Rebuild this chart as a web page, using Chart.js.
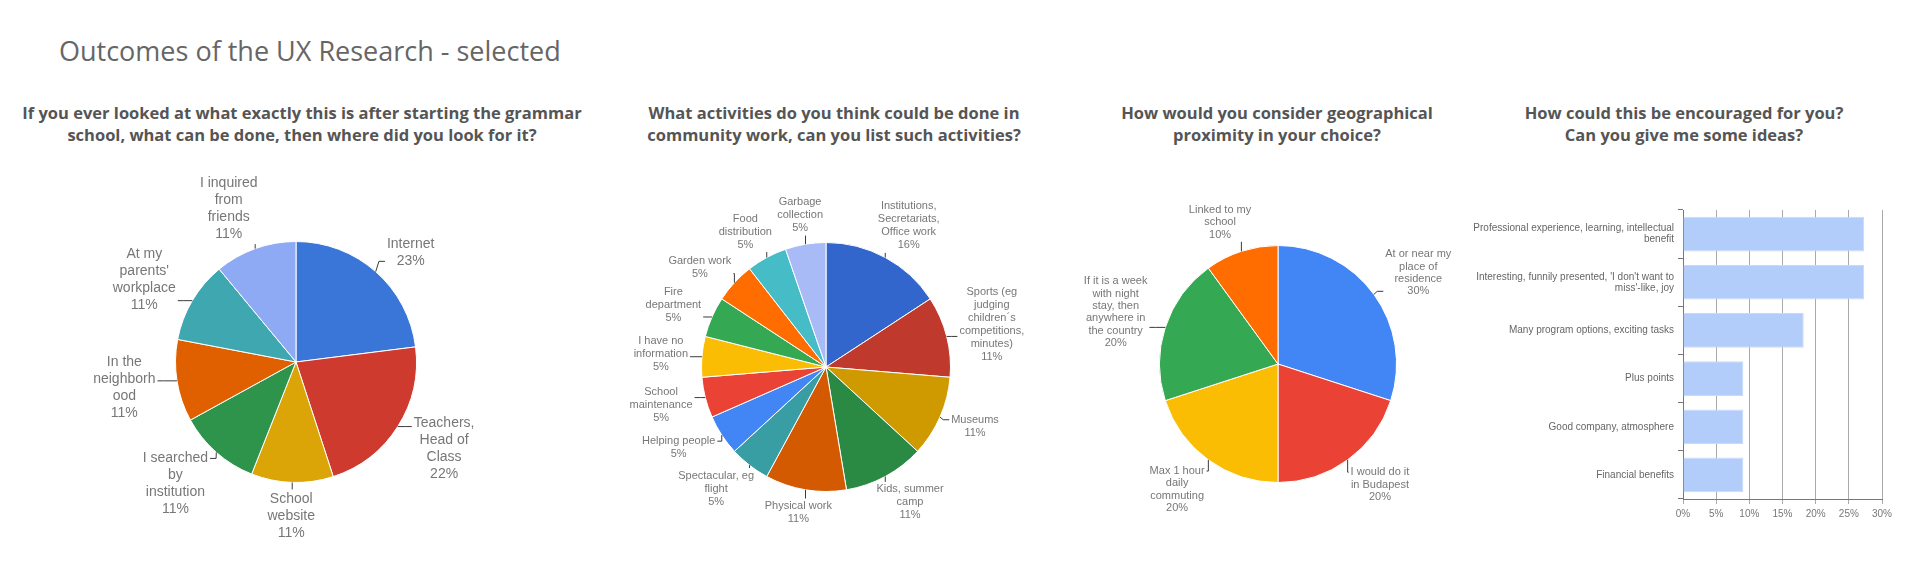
<!DOCTYPE html>
<html>
<head>
<meta charset="utf-8">
<script src="https://cdn.jsdelivr.net/npm/chart.js@4.4.1/dist/chart.umd.min.js"></script>
<style>
  html, body { margin: 0; padding: 0; background: #fff; }
  body { width: 1920px; height: 578px; position: relative; overflow: hidden; }
  .title { position: absolute; left: 59px; top: 36px; font: 27px/30px "Open Sans", sans-serif; color: #666; white-space: nowrap; }
  .sub { position: absolute; top: 102px; width: 640px; text-align: center; font: bold 16.5px/22px "Open Sans", sans-serif; color: #555; }
  .box { position: absolute; }
</style>
</head>
<body>
<div class="title">Outcomes of the UX Research - selected</div>
<div class="sub" style="left:-18px">If you ever looked at what exactly this is after starting the grammar<br>school, what can be done, then where did you look for it?</div>
<div class="sub" style="left:514px">What activities do you think could be done in<br>community work, can you list such activities?</div>
<div class="sub" style="left:957px">How would you consider geographical<br>proximity in your choice?</div>
<div class="sub" style="left:1364px">How could this be encouraged for you?<br>Can you give me some ideas?</div>

<div class="box" style="left:0px;top:160px;width:600px;height:418px"><canvas id="pie1"></canvas></div>
<div class="box" style="left:600px;top:160px;width:460px;height:418px"><canvas id="pie2"></canvas></div>
<div class="box" style="left:1060px;top:160px;width:420px;height:418px"><canvas id="pie3"></canvas></div>
<div class="box" style="left:1460px;top:180px;width:460px;height:360px"><canvas id="bar"></canvas></div>

<script>
// --- Datos ---
const pie1Labels = [['Internet'], ['Teachers,', 'Head of', 'Class'], ['School', 'website'], ['I searched', 'by', 'institution'], ['In the', 'neighborh', 'ood'], ['At my', "parents'", 'workplace'], ['I inquired', 'from', 'friends']];
const pie1Values = [23, 22, 11, 11, 11, 11, 11];

const pie2Labels = [['Institutions,', 'Secretariats,', 'Office work'], ['Sports (eg', 'judging', 'children´s', 'competitions,', 'minutes)'], ['Museums'], ['Kids, summer', 'camp'], ['Physical work'], ['Spectacular, eg', 'flight'], ['Helping people'], ['School', 'maintenance'], ['I have no', 'information'], ['Fire', 'department'], ['Garden work'], ['Food', 'distribution'], ['Garbage', 'collection']];
const pie2Values = [3, 2, 2, 2, 2, 1, 1, 1, 1, 1, 1, 1, 1];

const pie3Labels = [['At or near my', 'place of', 'residence'], ['I would do it', 'in Budapest'], ['Max 1 hour', 'daily', 'commuting'], ['If it is a week', 'with night', 'stay, then', 'anywhere in', 'the country'], ['Linked to my', 'school']];
const pie3Values = [3, 2, 2, 2, 1];

const barCategories = [['Professional experience, learning, intellectual', 'benefit'], ["Interesting, funnily presented, 'I don't want to", "miss'-like, joy"], 'Many program options, exciting tasks', 'Plus points', 'Good company, atmosphere', 'Financial benefits'];
const barValues = [27.3, 27.3, 18.2, 9.1, 9.1, 9.1];
const barTicks = [0, 5, 10, 15, 20, 25, 30];

// --- Colores ---
const pie1Colors = ['#3a76d8', '#cf3a2f', '#dba507', '#2e944b', '#e06000', '#3ea7b0', '#8eaaf5'];
const pie2Colors = ['#3366cc', '#bf392d', '#cf9a00', '#2a8a44', '#d35a00', '#389ea3', '#4285f4', '#ea4335', '#fbbc04', '#34a853', '#ff6d01', '#46bdc6', '#a8bbf6'];
const pie3Colors = ['#4285f4', '#ea4335', '#fbbc04', '#34a853', '#ff6d01'];

const LABEL_FONT = '"Liberation Sans", Arial, sans-serif';

// Etiquetas externas con líneas guía (estilo Google Charts)
const sliceLabels = {
    id: 'sliceLabels',
    afterDatasetsDraw(chart, args, opts) {
        const ctx = chart.ctx;
        const meta = chart.getDatasetMeta(0);
        const values = chart.data.datasets[0].data;
        const total = values.reduce((a, b) => a + b, 0);
        const lh = opts.lineHeight;
        const placed = [];
        const hit = (a, b) => a.l < b.r + 2 && b.l < a.r + 2 && a.t < b.b + 2 && b.t < a.b + 2;

        ctx.save();
        ctx.font = `${opts.size}px ${LABEL_FONT}`;
        meta.data.forEach((arc, i) => {
            const { x, y, startAngle, endAngle, outerRadius: r } = arc;
            const mid = (startAngle + endAngle) / 2;
            const ux = Math.cos(mid), uy = Math.sin(mid);
            const lines = [...chart.data.labels[i], Math.round(values[i] / total * 100) + '%'];
            const w = Math.max(...lines.map(l => ctx.measureText(l).width));
            const h = lines.length * lh;

            // empuje lateral extra para las etiquetas de los costados
            const side = Math.abs(ux) > 0.3 ? Math.sign(ux) * opts.spread : 0;
            let g = opts.gap, box;
            for (let k = 0; k < 80; k++) {
                const cx = x + ux * (r + g + w / 2) + side, cy = y + uy * (r + g + h / 2);
                box = { l: cx - w / 2, r: cx + w / 2, t: cy - h / 2, b: cy + h / 2, cx, cy };
                if (!placed.some(p => hit(p, box))) break;
                g += 2;
            }
            placed.push(box);

            // línea guía
            const ax = x + ux * r, ay = y + uy * r;
            ctx.strokeStyle = '#3a3a3a';
            ctx.lineWidth = 1;
            ctx.beginPath();
            ctx.moveTo(ax, ay);
            if (ax > box.l && ax < box.r) {
                const ey = uy < 0 ? box.b + 1 : box.t - 1;
                ctx.lineTo(ax, ey);
            } else {
                const ey = Math.min(Math.max(ay, box.t + lh / 2), box.b - lh / 2);
                if (box.cx > x) {
                    ctx.lineTo(Math.max(box.l - 8, ax), ey);
                    ctx.lineTo(box.l - 2, ey);
                } else {
                    ctx.lineTo(Math.min(box.r + 8, ax), ey);
                    ctx.lineTo(box.r + 2, ey);
                }
            }
            ctx.stroke();

            // texto
            ctx.fillStyle = '#777';
            ctx.textAlign = 'center';
            ctx.textBaseline = 'middle';
            lines.forEach((l, j) => ctx.fillText(l, box.cx, box.t + lh * (j + 0.5)));
        });
        ctx.restore();
    }
};

function makePie(id, labels, values, colors, W, H, cx, cy, r, size, lineHeight, gap, spread) {
    return new Chart(document.getElementById(id), {
        type: 'pie',
        data: {
            labels: labels,
            datasets: [{ data: values, backgroundColor: colors, borderColor: '#fff', borderWidth: 1 }]
        },
        options: {
            responsive: true,
            maintainAspectRatio: false,
            animation: false,
            layout: { padding: { left: cx - r, right: W - cx - r, top: cy - r, bottom: H - cy - r } },
            plugins: {
                legend: { display: false },
                tooltip: { enabled: false },
                sliceLabels: { size, lineHeight, gap, spread }
            }
        },
        plugins: [sliceLabels]
    });
}

makePie('pie1', pie1Labels, pie1Values, pie1Colors, 600, 418, 296, 202, 121, 14, 17, 8, 14);
makePie('pie2', pie2Labels, pie2Values, pie2Colors, 460, 418, 226, 207, 125, 11, 13, 10, 4);
makePie('pie3', pie3Labels, pie3Values, pie3Colors, 420, 418, 218, 204, 119, 11, 12.4, 12, 8);

new Chart(document.getElementById('bar'), {
    type: 'bar',
    data: {
        labels: barCategories,
        datasets: [{
            data: barValues,
            backgroundColor: '#b3cdfb',
            borderColor: '#c8dafc',
            borderWidth: 1,
            barPercentage: 0.72,
            categoryPercentage: 1
        }]
    },
    options: {
        indexAxis: 'y',
        responsive: true,
        maintainAspectRatio: false,
        animation: false,
        layout: { padding: { top: 30, right: 38, left: 0, bottom: 0 } },
        plugins: { legend: { display: false }, tooltip: { enabled: false } },
        scales: {
            x: {
                min: barTicks[0],
                max: barTicks[barTicks.length - 1],
                afterBuildTicks: s => { s.ticks = barTicks.map(v => ({ value: v })); },
                ticks: { callback: v => v + '%', color: '#777', font: { size: 10, family: LABEL_FONT }, padding: 4, maxRotation: 0 },
                grid: { color: '#aaa', tickLength: 5 },
                border: { color: '#777' },
                afterFit: s => { s.height = 41; }
            },
            y: {
                ticks: { color: '#666', font: { size: 10, family: LABEL_FONT, lineHeight: 1.1 }, padding: 4 },
                grid: { drawOnChartArea: false, tickLength: 5, color: '#777', offset: true },
                border: { color: '#777' },
                afterFit: s => { s.width = 223; }
            }
        }
    }
});
</script>
</body>
</html>
